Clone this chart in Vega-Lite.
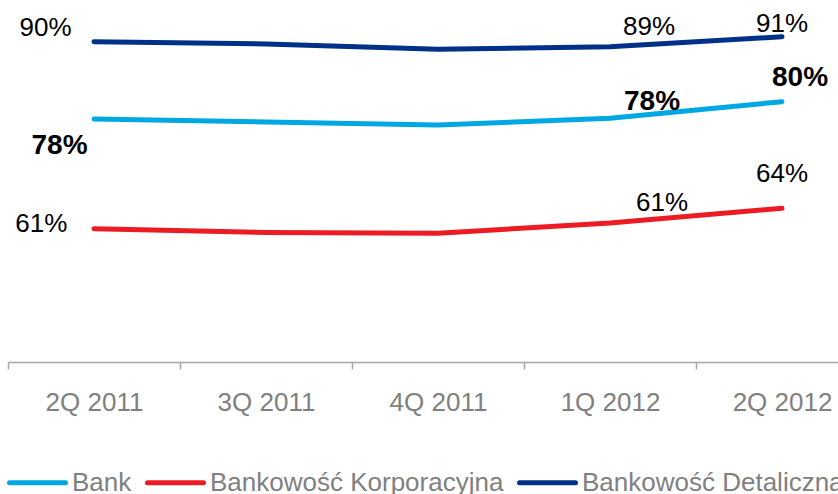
{
  "$schema": "https://vega.github.io/schema/vega-lite/v6.json",
  "width": 838,
  "height": 362,
  "autosize": {"type": "none"},
  "padding": {"left": 0, "top": 0, "right": 0, "bottom": 132},
  "background": "white",
  "config": {"view": {"stroke": null}, "font": "Liberation Sans"},
  "data": {
    "values": [
      {"quarter": "2Q 2011", "series": "Bank", "value": 77.93, "label": "78%"},
      {"quarter": "3Q 2011", "series": "Bank", "value": 77.46, "label": "77%"},
      {"quarter": "4Q 2011", "series": "Bank", "value": 76.99, "label": "77%"},
      {"quarter": "1Q 2012", "series": "Bank", "value": 78.05, "label": "78%"},
      {"quarter": "2Q 2012", "series": "Bank", "value": 80.63, "label": "80%"},
      {"quarter": "2Q 2011", "series": "Bankowość Korporacyjna", "value": 60.81, "label": "61%"},
      {"quarter": "3Q 2011", "series": "Bankowość Korporacyjna", "value": 60.2, "label": "60%"},
      {"quarter": "4Q 2011", "series": "Bankowość Korporacyjna", "value": 60.09, "label": "60%"},
      {"quarter": "1Q 2012", "series": "Bankowość Korporacyjna", "value": 61.7, "label": "61%"},
      {"quarter": "2Q 2012", "series": "Bankowość Korporacyjna", "value": 63.99, "label": "64%"},
      {"quarter": "2Q 2011", "series": "Bankowość Detaliczna", "value": 90.0, "label": "90%"},
      {"quarter": "3Q 2011", "series": "Bankowość Detaliczna", "value": 89.65, "label": "90%"},
      {"quarter": "4Q 2011", "series": "Bankowość Detaliczna", "value": 88.81, "label": "89%"},
      {"quarter": "1Q 2012", "series": "Bankowość Detaliczna", "value": 89.2, "label": "89%"},
      {"quarter": "2Q 2012", "series": "Bankowość Detaliczna", "value": 90.77, "label": "91%"}
    ]
  },
  "encoding": {
    "x": {
      "field": "quarter",
      "type": "ordinal",
      "sort": ["2Q 2011", "3Q 2011", "4Q 2011", "1Q 2012", "2Q 2012"],
      "scale": {"type": "band", "range": [8, 868]},
      "bandPosition": 0.5,
      "axis": {
        "title": null,
        "labelFontSize": 26,
        "labelColor": "#808080",
        "labelFont": "Liberation Sans",
        "labelPadding": 20,
        "labelAngle": 0,
        "domainColor": "#a6a6a6",
        "domainWidth": 1.5,
        "tickColor": "#a6a6a6",
        "tickWidth": 1.5,
        "tickSize": 7,
        "tickBand": "extent",
        "grid": false
      }
    },
    "y": {
      "field": "value",
      "type": "quantitative",
      "scale": {"domain": [40, 96.5], "zero": false, "nice": false},
      "axis": null
    }
  },
  "layer": [
    {
      "mark": {"type": "line", "strokeWidth": 5, "strokeCap": "round", "strokeJoin": "round"},
      "encoding": {
        "color": {
          "field": "series",
          "type": "nominal",
          "scale": {
            "domain": ["Bank", "Bankowość Korporacyjna", "Bankowość Detaliczna"],
            "range": ["#00a8e1", "#ed1c24", "#003087"]
          },
          "legend": {
            "title": null,
            "orient": "none",
            "legendX": 7,
            "legendY": 452,
            "direction": "horizontal",
            "symbolType": "stroke",
            "symbolSize": 3136,
            "symbolStrokeWidth": 5,
            "labelFontSize": 26,
            "labelFont": "Liberation Sans",
            "labelColor": "#808080",
            "labelOffset": 4,
            "labelLimit": 1000,
            "columnPadding": 5,
            "padding": 0,
            "encode": {"symbols": {"update": {"strokeCap": {"value": "round"}}}}
          }
        }
      }
    },
    {
      "transform": [{"filter": "datum.series === 'Bankowość Detaliczna' && datum.quarter === '2Q 2011'"}],
      "mark": {"type": "text", "fontSize": 26, "color": "#000000", "align": "center", "baseline": "middle", "dx": -48.5, "dy": -14},
      "encoding": {"text": {"field": "label"}}
    },
    {
      "transform": [{"filter": "datum.series === 'Bankowość Detaliczna' && datum.quarter === '1Q 2012'"}],
      "mark": {"type": "text", "fontSize": 26, "color": "#000000", "align": "center", "baseline": "middle", "dx": 39, "dy": -19.5},
      "encoding": {"text": {"field": "label"}}
    },
    {
      "transform": [{"filter": "datum.series === 'Bankowość Detaliczna' && datum.quarter === '2Q 2012'"}],
      "mark": {"type": "text", "fontSize": 26, "color": "#000000", "align": "center", "baseline": "middle", "dx": 0, "dy": -12.5},
      "encoding": {"text": {"field": "label"}}
    },
    {
      "transform": [{"filter": "datum.series === 'Bank' && datum.quarter === '2Q 2011'"}],
      "mark": {"type": "text", "fontSize": 28, "fontWeight": "bold", "color": "#000000", "align": "center", "baseline": "middle", "dx": -34.5, "dy": 27.5},
      "encoding": {"text": {"field": "label"}}
    },
    {
      "transform": [{"filter": "datum.series === 'Bank' && datum.quarter === '1Q 2012'"}],
      "mark": {"type": "text", "fontSize": 28, "fontWeight": "bold", "color": "#000000", "align": "center", "baseline": "middle", "dx": 42, "dy": -16.5},
      "encoding": {"text": {"field": "label"}}
    },
    {
      "transform": [{"filter": "datum.series === 'Bank' && datum.quarter === '2Q 2012'"}],
      "mark": {"type": "text", "fontSize": 28, "fontWeight": "bold", "color": "#000000", "align": "center", "baseline": "middle", "dx": 18, "dy": -23.5},
      "encoding": {"text": {"field": "label"}}
    },
    {
      "transform": [{"filter": "datum.series === 'Bankowość Korporacyjna' && datum.quarter === '2Q 2011'"}],
      "mark": {"type": "text", "fontSize": 26, "color": "#000000", "align": "center", "baseline": "middle", "dx": -52.7, "dy": -4.5},
      "encoding": {"text": {"field": "label"}}
    },
    {
      "transform": [{"filter": "datum.series === 'Bankowość Korporacyjna' && datum.quarter === '1Q 2012'"}],
      "mark": {"type": "text", "fontSize": 26, "color": "#000000", "align": "center", "baseline": "middle", "dx": 52, "dy": -20},
      "encoding": {"text": {"field": "label"}}
    },
    {
      "transform": [{"filter": "datum.series === 'Bankowość Korporacyjna' && datum.quarter === '2Q 2012'"}],
      "mark": {"type": "text", "fontSize": 26, "color": "#000000", "align": "center", "baseline": "middle", "dx": 0, "dy": -34.5},
      "encoding": {"text": {"field": "label"}}
    }
  ]
}
